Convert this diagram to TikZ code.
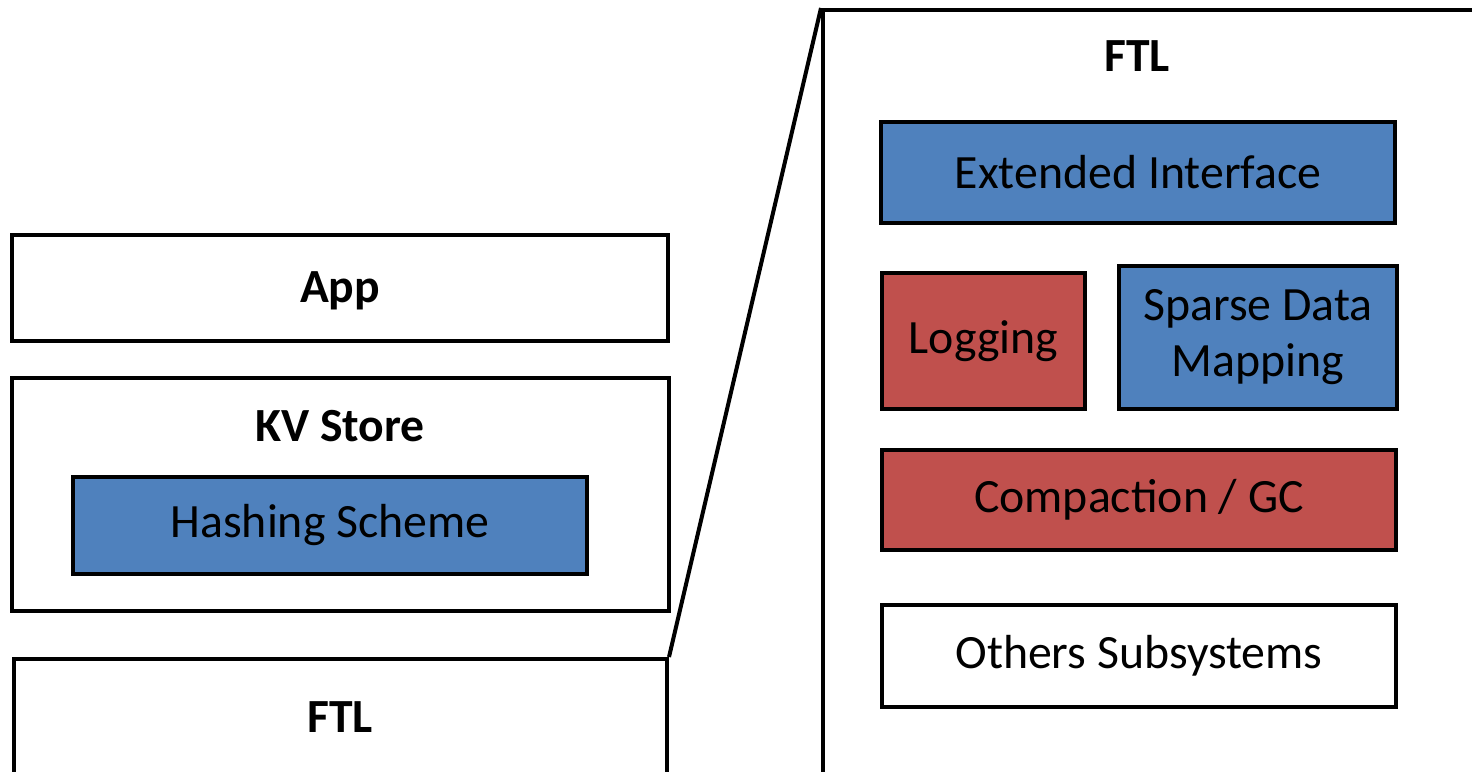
\documentclass[tikz,border=0pt]{standalone}
\usepackage{fontspec}
\setmainfont{Carlito}
\usepackage{xcolor}
\usetikzlibrary{positioning}

\definecolor{blockblue}{HTML}{4F81BD}
\definecolor{blockred}{HTML}{C0504D}

\tikzset{
  layer/.style={draw=black,line width=2pt,rectangle,inner sep=0pt},
  bluebox/.style={layer,fill=blockblue},
  redbox/.style={layer,fill=blockred},
  whitebox/.style={layer,fill=white},
  title/.style={font=\fontsize{23.8}{28}\selectfont\bfseries}
}

\begin{document}
\begin{tikzpicture}[x=0.5pt,y=-0.5pt,font=\fontsize{23.9}{28}\selectfont]
\useasboundingbox (0,0) rectangle (1472,771);
\clip (0,0) rectangle (1472,771);

% left stack
\node[whitebox,minimum width=328pt,minimum height=53pt] (app) at (340,288){};
\node[title] (apptitle) at (340,291){App};
\node[whitebox,minimum width=328.5pt,minimum height=116.5pt] (kv) at (340.5,494.5){};
\node[title] (kvtitle) at (340,426){KV Store};
\node[bluebox,minimum width=257pt,minimum height=48.5pt] (hash) at (330,525.5){Hashing Scheme};
\node[whitebox,minimum width=326.5pt,minimum height=90pt,anchor=north west] (ftl) at (12,657){};
\node[title] (ftltitle) at (340,717){FTL};

% zoomed FTL
\node[whitebox,minimum width=360pt,minimum height=420pt,anchor=north west] (ftlbig) at (821,8){};
\node[title] (bigtitle) at (1137,56){FTL};
\node[bluebox,minimum width=257pt,minimum height=50.5pt] (ext) at (1138,172.5){Extended Interface};
\node[redbox,minimum width=101.5pt,minimum height=68pt] (log) at (983.5,341){Logging};
\node[bluebox,minimum width=139pt,minimum height=71.5pt,align=center] (sparse) at (1258,337.5){Sparse Data\\Mapping};
\node[redbox,minimum width=257pt,minimum height=50pt] (gc) at (1139,500){Compaction / GC};
\node[whitebox,minimum width=257pt,minimum height=51pt] (others) at (1139,656){Others Subsystems};

\draw[line width=2pt] (ftl.north east)--(ftlbig.north west);
\end{tikzpicture}
\end{document}
